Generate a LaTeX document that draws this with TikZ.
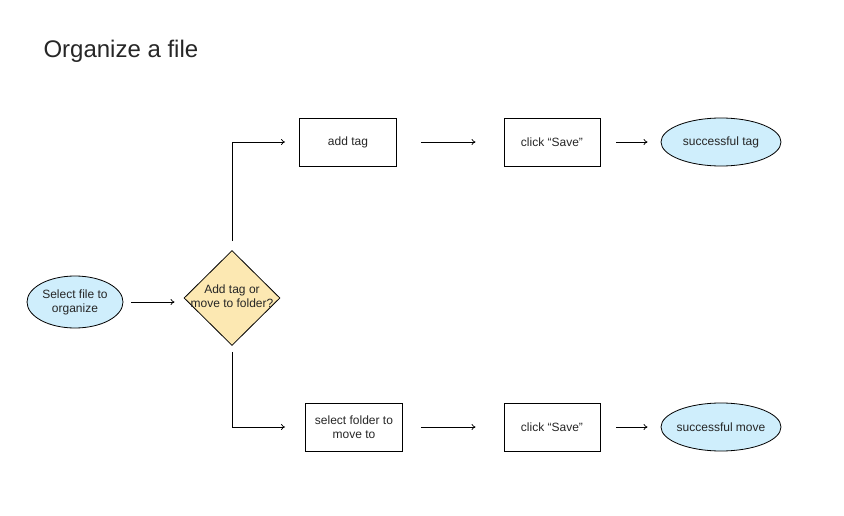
\documentclass[tikz,border=0pt]{standalone}
\usepackage{fontspec}
\setmainfont{Liberation Sans}
\usetikzlibrary{shapes.geometric,arrows.meta}

\definecolor{startblue}{HTML}{CFEEFC}
\definecolor{askyellow}{HTML}{FCE8B2}

\tikzset{
    every node/.style={font=\fontsize{12}{14}\selectfont, align=center, text=black!85},
    endpoint/.style={ellipse, draw=black, fill=startblue, line width=0.8pt, inner xsep=-6pt, inner ysep=0pt},
    stepbox/.style={rectangle, draw=black, line width=0.8pt, minimum width=97pt, minimum height=48pt},
    decision/.style={diamond, draw=black, fill=askyellow, line width=0.8pt, inner sep=0pt,
        minimum width=96pt, minimum height=95pt},
    flow/.style={-{To[length=4pt,width=6pt]}, line width=0.7pt}
}

\begin{document}
\begin{tikzpicture}[x=1pt, y=-1pt]
    \useasboundingbox (0,0) rectangle (844,516);

    % Title
    \node[font=\fontsize{24}{28}\selectfont, anchor=base west] (title) at (40,58) {Organize a file};

    % Start and decision
    \node[endpoint, minimum width=96pt, minimum height=52pt] (start) at (75,302) {Select file to\\organize};
    \node[decision] (ask) at (232,298) {};
    \node (askText) at (232,296) {Add tag or\\move to folder?};

    % Tag branch
    \node[stepbox] (tag) at (348,142) {add tag};
    \node[stepbox, minimum width=96pt] (saveTag) at (552,142) {click “Save”};
    \node[endpoint, minimum width=120pt, minimum height=48pt] (doneTag) at (721,142) {successful tag};

    % Move branch
    \node[stepbox] (folder) at (354,427) {select folder to\\move to};
    \node[stepbox, minimum width=96pt] (saveMove) at (552,427) {click “Save”};
    \node[endpoint, minimum width=120pt, minimum height=48pt] (doneMove) at (721,427) {successful move};

    % Connectors
    \draw[flow] ([xshift=8pt]start.east) -- ([xshift=-9pt]start.east -| ask.west);
    \draw[flow] ([yshift=9pt]ask.north) |- ([xshift=-14pt]tag.west);
    \draw[flow] ([yshift=-6pt]ask.south) |- ([xshift=-20pt]folder.west);

    \draw[flow] ([xshift=24pt]tag.east) -- ([xshift=-28pt]saveTag.west);
    \draw[flow] ([xshift=16pt]saveTag.east) -- ([xshift=-13pt]doneTag.west);
    \draw[flow] ([xshift=18pt]folder.east) -- ([xshift=-28pt]saveMove.west);
    \draw[flow] ([xshift=16pt]saveMove.east) -- ([xshift=-13pt]doneMove.west);
\end{tikzpicture}
\end{document}
